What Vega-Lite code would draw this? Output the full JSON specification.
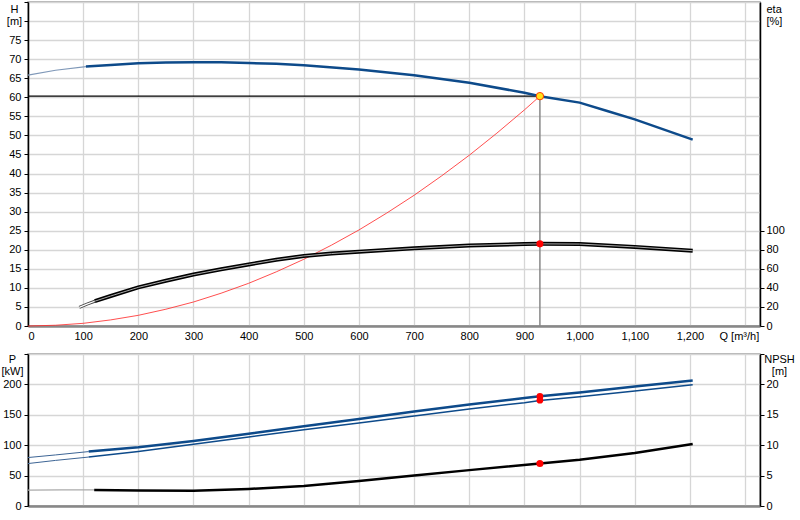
{
  "$schema": "https://vega.github.io/schema/vega-lite/v6.json",
  "padding": {"left": 0, "top": 0, "right": 2, "bottom": 2},
  "background": "white",
  "config": {
    "font": "Liberation Sans",
    "view": {"stroke": "#999", "strokeWidth": 1.5},
    "axis": {
      "labelFont": "Liberation Sans",
      "labelFontSize": 11,
      "labelColor": "#000",
      "titleFont": "Liberation Sans",
      "titleFontSize": 11,
      "titleFontWeight": "normal",
      "titleColor": "#000",
      "gridColor": "#d6d6d6",
      "gridWidth": 1.3,
      "tickColor": "#000",
      "tickSize": 4,
      "domainColor": "#000",
      "domainWidth": 1.5
    },
    "concat": {"spacing": 10}
  },
  "data": {
    "values": [
      {"s": "H_thin", "Q": 0, "v": 65.8},
      {"s": "H_thin", "Q": 50, "v": 67.1},
      {"s": "H_thin", "Q": 105, "v": 68.05},
      {"s": "H", "Q": 105, "v": 68.05},
      {"s": "H", "Q": 150, "v": 68.5},
      {"s": "H", "Q": 200, "v": 68.9},
      {"s": "H", "Q": 250, "v": 69.1},
      {"s": "H", "Q": 300, "v": 69.2},
      {"s": "H", "Q": 350, "v": 69.2},
      {"s": "H", "Q": 400, "v": 69.0},
      {"s": "H", "Q": 450, "v": 68.8},
      {"s": "H", "Q": 500, "v": 68.4},
      {"s": "H", "Q": 600, "v": 67.3},
      {"s": "H", "Q": 700, "v": 65.8},
      {"s": "H", "Q": 800, "v": 63.8},
      {"s": "H", "Q": 900, "v": 61.2},
      {"s": "H", "Q": 928, "v": 60.3},
      {"s": "H", "Q": 1000, "v": 58.6},
      {"s": "H", "Q": 1050, "v": 56.4},
      {"s": "H", "Q": 1100, "v": 54.2},
      {"s": "H", "Q": 1205, "v": 48.9},
      {"s": "sys", "Q": 0, "v": 0},
      {"s": "sys", "Q": 50, "v": 0.2},
      {"s": "sys", "Q": 100, "v": 0.7},
      {"s": "sys", "Q": 150, "v": 1.6},
      {"s": "sys", "Q": 200, "v": 2.8},
      {"s": "sys", "Q": 250, "v": 4.4},
      {"s": "sys", "Q": 300, "v": 6.3},
      {"s": "sys", "Q": 350, "v": 8.6},
      {"s": "sys", "Q": 400, "v": 11.2},
      {"s": "sys", "Q": 450, "v": 14.2},
      {"s": "sys", "Q": 500, "v": 17.5},
      {"s": "sys", "Q": 550, "v": 21.2},
      {"s": "sys", "Q": 600, "v": 25.2},
      {"s": "sys", "Q": 650, "v": 29.6},
      {"s": "sys", "Q": 700, "v": 34.3},
      {"s": "sys", "Q": 750, "v": 39.4},
      {"s": "sys", "Q": 800, "v": 44.8},
      {"s": "sys", "Q": 850, "v": 50.6},
      {"s": "sys", "Q": 900, "v": 56.7},
      {"s": "sys", "Q": 928, "v": 60.3},
      {"s": "op", "Q": 928, "v": 60.3},
      {"s": "eta_thin", "Q": 93, "v": 19.5},
      {"s": "eta_thin", "Q": 107, "v": 23},
      {"s": "eta_thin", "Q": 121, "v": 26},
      {"s": "eta", "Q": 121, "v": 26},
      {"s": "eta", "Q": 150, "v": 31.5},
      {"s": "eta", "Q": 200, "v": 40.5},
      {"s": "eta", "Q": 250, "v": 47.5},
      {"s": "eta", "Q": 300, "v": 54},
      {"s": "eta", "Q": 350, "v": 59.5},
      {"s": "eta", "Q": 400, "v": 64.6},
      {"s": "eta", "Q": 450, "v": 69.5},
      {"s": "eta", "Q": 500, "v": 73.5},
      {"s": "eta", "Q": 550, "v": 76},
      {"s": "eta", "Q": 600, "v": 78},
      {"s": "eta", "Q": 700, "v": 81.5},
      {"s": "eta", "Q": 800, "v": 84.5},
      {"s": "eta", "Q": 900, "v": 86},
      {"s": "eta", "Q": 928, "v": 86.2},
      {"s": "eta", "Q": 1000, "v": 86},
      {"s": "eta", "Q": 1100, "v": 83},
      {"s": "eta", "Q": 1205, "v": 79},
      {"s": "eta_op", "Q": 928, "v": 86.2},
      {"s": "P1_thin", "Q": 0, "v": 79.7},
      {"s": "P1_thin", "Q": 50, "v": 84},
      {"s": "P1_thin", "Q": 110, "v": 89.5},
      {"s": "P1", "Q": 110, "v": 89.5},
      {"s": "P1", "Q": 200, "v": 96.7},
      {"s": "P1", "Q": 300, "v": 107},
      {"s": "P1", "Q": 400, "v": 119},
      {"s": "P1", "Q": 500, "v": 131},
      {"s": "P1", "Q": 600, "v": 143},
      {"s": "P1", "Q": 700, "v": 155.5},
      {"s": "P1", "Q": 800, "v": 167},
      {"s": "P1", "Q": 900, "v": 177.5},
      {"s": "P1", "Q": 928, "v": 180.5},
      {"s": "P1", "Q": 1000, "v": 186.8},
      {"s": "P1", "Q": 1100, "v": 196.7},
      {"s": "P1", "Q": 1205, "v": 206.6},
      {"s": "P2_thin", "Q": 0, "v": 69.8},
      {"s": "P2_thin", "Q": 50, "v": 75},
      {"s": "P2_thin", "Q": 110, "v": 80.5},
      {"s": "P2", "Q": 110, "v": 80.5},
      {"s": "P2", "Q": 200, "v": 89.6},
      {"s": "P2", "Q": 300, "v": 101.5},
      {"s": "P2", "Q": 400, "v": 113.5},
      {"s": "P2", "Q": 500, "v": 125.5},
      {"s": "P2", "Q": 600, "v": 136.5},
      {"s": "P2", "Q": 700, "v": 148},
      {"s": "P2", "Q": 800, "v": 159.5},
      {"s": "P2", "Q": 900, "v": 170},
      {"s": "P2", "Q": 928, "v": 173.6},
      {"s": "P2", "Q": 1000, "v": 179.5},
      {"s": "P2", "Q": 1100, "v": 189},
      {"s": "P2", "Q": 1205, "v": 199.4},
      {"s": "P_op", "Q": 928, "v": 180.5},
      {"s": "P_op", "Q": 928, "v": 174},
      {"s": "NPSH_thin", "Q": 0, "v": 2.6},
      {"s": "NPSH_thin", "Q": 60, "v": 2.65},
      {"s": "NPSH_thin", "Q": 120, "v": 2.65},
      {"s": "NPSH", "Q": 120, "v": 2.65},
      {"s": "NPSH", "Q": 200, "v": 2.55},
      {"s": "NPSH", "Q": 300, "v": 2.5},
      {"s": "NPSH", "Q": 400, "v": 2.8},
      {"s": "NPSH", "Q": 500, "v": 3.3},
      {"s": "NPSH", "Q": 600, "v": 4.1},
      {"s": "NPSH", "Q": 700, "v": 5.0},
      {"s": "NPSH", "Q": 800, "v": 5.9},
      {"s": "NPSH", "Q": 928, "v": 7.0},
      {"s": "NPSH", "Q": 1000, "v": 7.6},
      {"s": "NPSH", "Q": 1100, "v": 8.7},
      {"s": "NPSH", "Q": 1205, "v": 10.2},
      {"s": "NPSH_op", "Q": 928, "v": 7.0}
    ]
  },
  "vconcat": [
    {
      "width": 732,
      "height": 324,
      "encoding": {
        "x": {
          "field": "Q",
          "type": "quantitative",
          "scale": {"domain": [0, 1327], "nice": false, "zero": false},
          "axis": {
            "values": [0, 100, 200, 300, 400, 500, 600, 700, 800, 900, 1000, 1100, 1200, 1300],
            "labelExpr": "datum.value > 1250 ? '' : format(datum.value, ',')",
            "grid": true,
            "ticks": false,
            "labelPadding": 4,
            "domainColor": "#888",
            "domainWidth": 2.5,
            "title": "Q [m³/h]",
            "titleAngle": 0,
            "titleAlign": "left",
            "titleBaseline": "middle",
            "titleX": 691,
            "titleY": 10
          }
        }
      },
      "layer": [
        {
          "encoding": {
            "y": {
              "field": "v",
              "type": "quantitative",
              "scale": {"domain": [0, 85], "nice": false},
              "axis": {
                "values": [0, 5, 10, 15, 20, 25, 30, 35, 40, 45, 50, 55, 60, 65, 70, 75, 80, 85],
                "labelExpr": "datum.value > 77 ? '' : datum.label",
                "grid": true,
                "labelPadding": 3,
                "title": ["H", "[m]"],
                "titleAngle": 0,
                "titleAlign": "center",
                "titleBaseline": "top",
                "titleLineHeight": 12,
                "titleX": -14,
                "titleY": 1
              }
            }
          },
          "layer": [
            {
              "transform": [{"filter": "datum.s == 'sys'"}],
              "mark": {"type": "line", "color": "#ff3030", "strokeWidth": 1, "opacity": 0.85}
            },
            {
              "transform": [{"filter": "datum.s == 'op'"}],
              "mark": {"type": "rule", "color": "#000", "strokeWidth": 1.2},
              "encoding": {"x": {"datum": 0}, "x2": {"field": "Q"}}
            },
            {
              "transform": [{"filter": "datum.s == 'op'"}],
              "mark": {"type": "rule", "color": "#888", "strokeWidth": 1.5},
              "encoding": {"y": {"datum": 0}, "y2": {"field": "v"}}
            },
            {
              "transform": [{"filter": "datum.s == 'H_thin'"}],
              "mark": {"type": "line", "color": "#7f98b8", "strokeWidth": 1.2}
            },
            {
              "transform": [{"filter": "datum.s == 'H'"}],
              "mark": {"type": "line", "color": "#0d4a8a", "strokeWidth": 2.5}
            },
            {
              "transform": [{"filter": "datum.s == 'op'"}],
              "mark": {"type": "circle", "fill": "#ffe21a", "stroke": "#ff3a00", "strokeWidth": 1, "opacity": 1, "size": 55}
            },
            {
              "data": {"values": [{}]},
              "mark": {"type": "text", "text": "445 mm", "align": "left", "baseline": "middle", "fontSize": 11, "color": "#000"},
              "encoding": {"x": {"datum": 31}, "y": {"datum": 70}}
            },
            {
              "data": {"values": [{}]},
              "mark": {"type": "rect", "fill": "white", "stroke": "#888", "strokeWidth": 1.2},
              "encoding": {"x": {"datum": 1127}, "x2": {"datum": 1327}, "y": {"datum": 80.2}, "y2": {"datum": 85}}
            },
            {
              "data": {"values": [{}]},
              "mark": {"type": "text", "text": "NKG 300-250-450/445", "align": "center", "baseline": "middle", "fontSize": 11, "color": "#1a1a1a"},
              "encoding": {"x": {"datum": 1227}, "y": {"datum": 83.1}}
            }
          ]
        },
        {
          "encoding": {
            "y": {
              "field": "v",
              "type": "quantitative",
              "scale": {"domain": [0, 340], "nice": false},
              "axis": {
                "orient": "right",
                "values": [0, 20, 40, 60, 80, 100],
                "grid": false,
                "labelPadding": 2,
                "title": ["eta", "[%]"],
                "titleAngle": 0,
                "titleAlign": "left",
                "titleBaseline": "top",
                "titleLineHeight": 12,
                "titleX": 6,
                "titleY": 1
              }
            }
          },
          "layer": [
            {
              "transform": [{"filter": "datum.s == 'eta_thin'"}],
              "mark": {"type": "line", "color": "#444", "strokeWidth": 3}
            },
            {
              "transform": [{"filter": "datum.s == 'eta_thin'"}],
              "mark": {"type": "line", "color": "#fff", "strokeWidth": 1.2}
            },
            {
              "transform": [{"filter": "datum.s == 'eta'"}],
              "mark": {"type": "line", "color": "#000", "strokeWidth": 4}
            },
            {
              "transform": [{"filter": "datum.s == 'eta'"}],
              "mark": {"type": "line", "color": "#aaa", "strokeWidth": 1}
            },
            {
              "transform": [{"filter": "datum.s == 'eta_op'"}],
              "mark": {"type": "circle", "color": "#ff0000", "opacity": 1, "size": 50}
            }
          ]
        }
      ],
      "resolve": {"scale": {"y": "independent"}}
    },
    {
      "width": 732,
      "height": 152,
      "encoding": {
        "x": {
          "field": "Q",
          "type": "quantitative",
          "scale": {"domain": [0, 1327], "nice": false, "zero": false},
          "axis": {
            "values": [0, 100, 200, 300, 400, 500, 600, 700, 800, 900, 1000, 1100, 1200, 1300],
            "labels": false,
            "grid": true,
            "ticks": false,
            "domainColor": "#888",
            "domainWidth": 2.5,
            "title": null
          }
        }
      },
      "layer": [
        {
          "encoding": {
            "y": {
              "field": "v",
              "type": "quantitative",
              "scale": {"domain": [0, 250], "nice": false},
              "axis": {
                "values": [0, 50, 100, 150, 200, 250],
                "labelExpr": "datum.value > 220 ? '' : datum.label",
                "grid": true,
                "labelPadding": 3,
                "title": ["P", "[kW]"],
                "titleAngle": 0,
                "titleAlign": "center",
                "titleBaseline": "top",
                "titleLineHeight": 12,
                "titleX": -16,
                "titleY": -1
              }
            }
          },
          "layer": [
            {
              "transform": [{"filter": "datum.s == 'P1_thin'"}],
              "mark": {"type": "line", "color": "#3d6595", "strokeWidth": 1}
            },
            {
              "transform": [{"filter": "datum.s == 'P2_thin'"}],
              "mark": {"type": "line", "color": "#3d6595", "strokeWidth": 1}
            },
            {
              "transform": [{"filter": "datum.s == 'P1'"}],
              "mark": {"type": "line", "color": "#0d4a8a", "strokeWidth": 2.5}
            },
            {
              "transform": [{"filter": "datum.s == 'P2'"}],
              "mark": {"type": "line", "color": "#0d4a8a", "strokeWidth": 1.5}
            },
            {
              "transform": [{"filter": "datum.s == 'P_op'"}],
              "mark": {"type": "circle", "color": "#ff0000", "opacity": 1, "size": 45}
            },
            {
              "data": {"values": [{}]},
              "mark": {"type": "text", "text": "P1", "align": "center", "baseline": "middle", "fontSize": 11, "color": "#1d5a9a"},
              "encoding": {"x": {"datum": 1205}, "y": {"datum": 221}}
            },
            {
              "data": {"values": [{}]},
              "mark": {"type": "text", "text": "P2", "align": "center", "baseline": "middle", "fontSize": 11, "color": "#1d5a9a"},
              "encoding": {"x": {"datum": 1207}, "y": {"datum": 189.5}}
            }
          ]
        },
        {
          "encoding": {
            "y": {
              "field": "v",
              "type": "quantitative",
              "scale": {"domain": [0, 25], "nice": false},
              "axis": {
                "orient": "right",
                "values": [0, 5, 10, 15, 20, 25],
                "labelExpr": "datum.value > 22 ? '' : datum.label",
                "grid": false,
                "labelPadding": 2,
                "title": ["NPSH", "[m]"],
                "titleAngle": 0,
                "titleAlign": "center",
                "titleBaseline": "top",
                "titleLineHeight": 12,
                "titleX": 19,
                "titleY": -1
              }
            }
          },
          "layer": [
            {
              "transform": [{"filter": "datum.s == 'NPSH_thin'"}],
              "mark": {"type": "line", "color": "#aaa", "strokeWidth": 1.3}
            },
            {
              "transform": [{"filter": "datum.s == 'NPSH'"}],
              "mark": {"type": "line", "color": "#000", "strokeWidth": 2.5}
            },
            {
              "transform": [{"filter": "datum.s == 'NPSH_op'"}],
              "mark": {"type": "circle", "color": "#ff0000", "opacity": 1, "size": 50}
            }
          ]
        }
      ],
      "resolve": {"scale": {"y": "independent"}}
    }
  ]
}
